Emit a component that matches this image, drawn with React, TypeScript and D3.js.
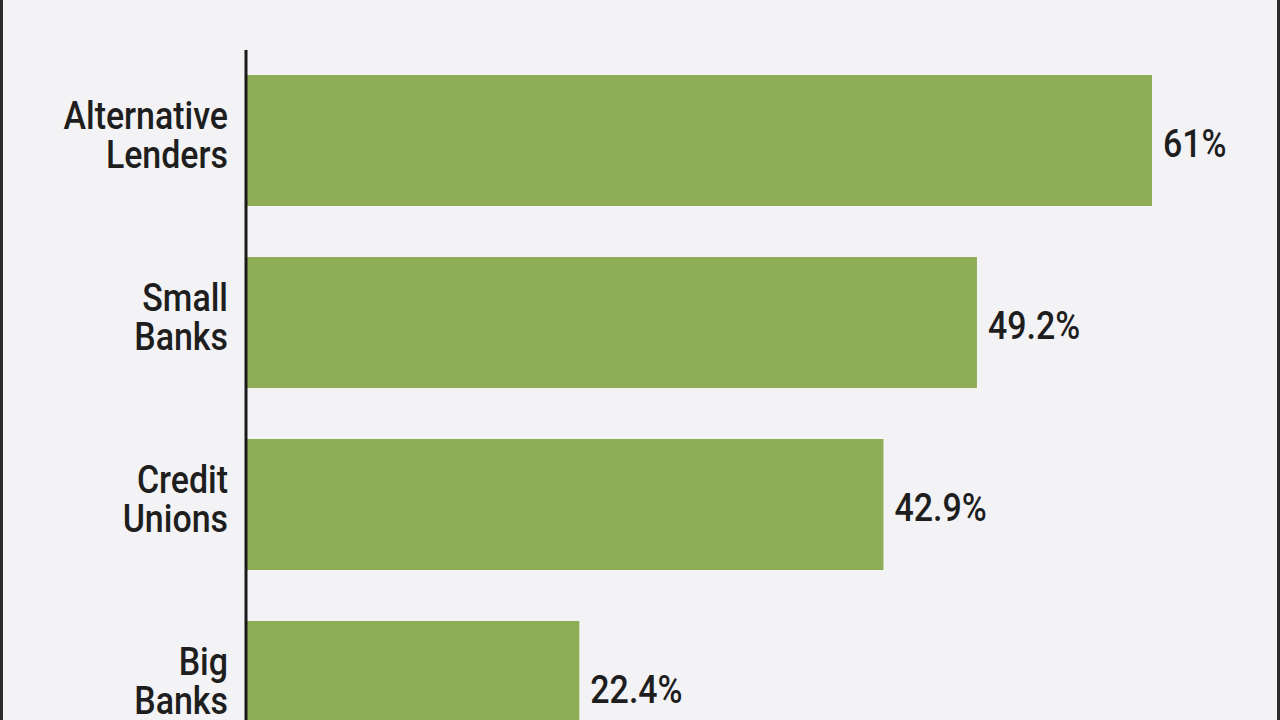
import React from "react";
import * as d3 from "d3";

const categories: string[][] = [
  ["Alternative", "Lenders"],
  ["Small", "Banks"],
  ["Credit", "Unions"],
  ["Big", "Banks"],
];
const values: number[] = [61, 49.2, 42.9, 22.4];
const valueLabels: string[] = ["61%", "49.2%", "42.9%", "22.4%"];

const W = 1280;
const H = 720;
const FONT = "Roboto, 'Liberation Sans', sans-serif";
const SX = 0.87;

export default function App() {
  const x0 = 247;
  const x = d3.scaleLinear().domain([0, 61]).range([x0, 1152]);
  const keys = categories.map((_, i) => String(i));
  const y = d3
    .scaleBand<string>()
    .domain(keys)
    .range([49.5, 49.5 + 4 * 182])
    .paddingInner(51 / 182)
    .paddingOuter(25.5 / 182);

  return (
    <div style={{ position: "fixed", left: 0, top: 0, width: W, height: H, overflow: "hidden" }}>
      <svg width={W} height={H} style={{ display: "block" }}>
        <rect x={0} y={0} width={W} height={H} fill="#f3f3f5" />
        <rect x={0} y={0} width={3} height={H} fill="#2b2b2b" />
        <rect x={1277} y={0} width={3} height={H} fill="#2b2b2b" />
        {keys.map((k, i) => {
          const yb = y(k)!;
          const bw = y.bandwidth();
          const cy = yb + bw / 2;
          return (
            <g key={k}>
              <rect x={x0} y={yb} width={x(values[i]) - x0} height={bw} fill="#8fac56" />
              <g transform={`translate(${x(values[i]) + 11},${cy + 16}) scale(${SX},1)`}>
                <text x={0} y={0} fontFamily={FONT} fontSize={39} fontWeight={500} fill="#1e1e1e">
                  {valueLabels[i]}
                </text>
              </g>
              <g transform={`translate(228,${cy}) scale(${SX},1)`}>
                <text textAnchor="end" fontFamily={FONT} fontSize={39} fontWeight={500} fill="#1e1e1e">
                  <tspan x={0} y={-12}>{categories[i][0]}</tspan>
                  <tspan x={0} y={27}>{categories[i][1]}</tspan>
                </text>
              </g>
            </g>
          );
        })}
        <line x1={246} x2={246} y1={50} y2={H} stroke="#1a1a1a" strokeWidth={3} />
      </svg>
    </div>
  );
}
